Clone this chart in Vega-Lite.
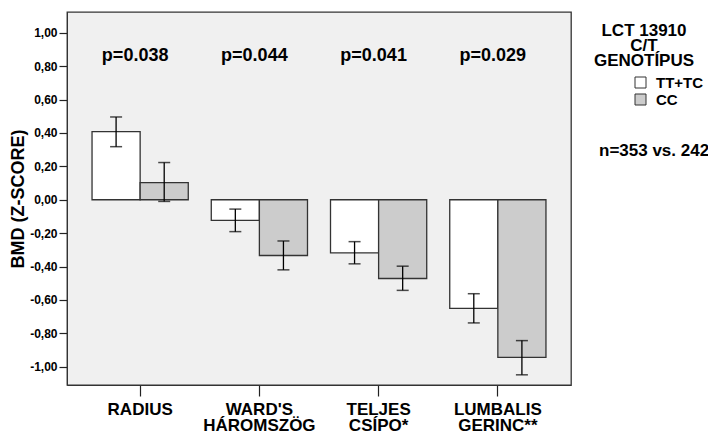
{
  "$schema": "https://vega.github.io/schema/vega-lite/v6.json",
  "width": 504,
  "height": 373,
  "autosize": {"type": "none"},
  "padding": {"left": 67, "top": 12, "right": 137, "bottom": 47},
  "background": "white",
  "config": {
    "font": "Liberation Sans",
    "view": {"fill": "#f0f0f0", "stroke": "#333333", "strokeWidth": 1.3},
    "axisY": {
      "labelOverlap": false,
      "labelSeparation": 0,
      "values": [-1, -0.8, -0.6, -0.4, -0.2, 0, 0.2, 0.4, 0.6, 0.8, 1],
      "labelExpr": "(datum.value < 0 ? '-' : '') + replace(format(abs(datum.value), '.2f'), '.', ',')",
      "labelFontSize": 12,
      "labelFontWeight": "bold",
      "labelColor": "black",
      "labelPadding": 2,
      "tickSize": 8,
      "tickColor": "#222222",
      "tickWidth": 1.2,
      "domainColor": "#333333",
      "grid": false,
      "titleFontSize": 18,
      "titleFontWeight": "bold",
      "titleColor": "black",
      "titleX": -49,
      "titleY": 186.5,
      "titleAngle": -90,
      "titleAlign": "center",
      "titleBaseline": "middle"
    }
  },
  "title": {
    "text": "n=353 vs. 242",
    "anchor": "start",
    "frame": "group",
    "orient": "top",
    "fontSize": 17,
    "fontWeight": "bold",
    "color": "black",
    "offset": 0,
    "dx": 532,
    "dy": 148
  },
  "datasets": {
    "bars": [
      {"site": "RADIUS", "group": "TT+TC", "mean": 0.408, "lo": 0.318, "hi": 0.496},
      {"site": "RADIUS", "group": "CC", "mean": 0.103, "lo": -0.01, "hi": 0.223},
      {"site": "WARD'S HÁROMSZÖG", "group": "TT+TC", "mean": -0.124, "lo": -0.191, "hi": -0.056},
      {"site": "WARD'S HÁROMSZÖG", "group": "CC", "mean": -0.334, "lo": -0.42, "hi": -0.247},
      {"site": "TELJES CSÍPO*", "group": "TT+TC", "mean": -0.318, "lo": -0.384, "hi": -0.251},
      {"site": "TELJES CSÍPO*", "group": "CC", "mean": -0.472, "lo": -0.543, "hi": -0.398},
      {"site": "LUMBALIS GERINC**", "group": "TT+TC", "mean": -0.651, "lo": -0.738, "hi": -0.563},
      {"site": "LUMBALIS GERINC**", "group": "CC", "mean": -0.945, "lo": -1.049, "hi": -0.844}
    ],
    "pvals": [
      {"site": "RADIUS", "label": "p=0.038"},
      {"site": "WARD'S HÁROMSZÖG", "label": "p=0.044"},
      {"site": "TELJES CSÍPO*", "label": "p=0.041"},
      {"site": "LUMBALIS GERINC**", "label": "p=0.029"}
    ]
  },
  "layer": [
    {
      "data": {"name": "bars"},
      "mark": {"type": "bar", "stroke": "#333333", "strokeWidth": 1.3},
      "encoding": {
        "x": {
          "field": "site", "type": "nominal",
          "sort": ["RADIUS", "WARD'S HÁROMSZÖG", "TELJES CSÍPO*", "LUMBALIS GERINC**"],
          "scale": {"paddingInner": 0.193, "paddingOuter": 0.21},
          "axis": {
            "title": null,
            "labelExpr": "split(datum.label, ' ')",
            "labelFontSize": 17,
            "labelFontWeight": "bold",
            "labelColor": "black",
            "labelAngle": 0,
            "labelLineHeight": 16,
            "labelPadding": 5,
            "labelLimit": 0,
            "labelOverlap": false,
            "tickSize": 11,
            "tickColor": "#222222",
            "tickWidth": 1.2,
            "domainColor": "#333333"
          }
        },
        "xOffset": {
          "field": "group", "type": "nominal",
          "sort": ["TT+TC", "CC"],
          "scale": {"paddingInner": 0, "paddingOuter": 0}
        },
        "y": {
          "field": "mean", "type": "quantitative",
          "scale": {"domain": [-1.11, 1.125], "nice": false, "zero": false},
          "axis": {"title": "BMD (Z-SCORE)", "labelOverlap": false, "values": [-1, -0.8, -0.6, -0.4, -0.2, 0, 0.2, 0.4, 0.6, 0.8, 1]}
        },
        "y2": {"datum": 0},
        "fill": {
          "field": "group", "type": "nominal",
          "scale": {"domain": ["TT+TC", "CC"], "range": ["#ffffff", "#cccccc"]},
          "legend": {
            "orient": "none",
            "legendX": 527,
            "legendY": 11,
            "padding": 0,
            "title": ["LCT 13910", "C/T", "GENOTÍPUS"],
            "titleFontSize": 17,
            "titleFontWeight": "bold",
            "titleColor": "black",
            "titleAlign": "center",
            "titleAnchor": "middle",
            "titleLineHeight": 15,
            "titlePadding": 5,
            "symbolType": "square",
            "symbolSize": 121,
            "symbolStrokeColor": "#333333",
            "symbolStrokeWidth": 1,
            "labelFontSize": 15,
            "labelFontWeight": "bold",
            "labelColor": "black",
            "labelOffset": 8,
            "rowPadding": 1,
            "encode": {"title": {"update": {"dx": {"value": -24}}}}
          }
        }
      }
    },
    {
      "data": {"name": "bars"},
      "mark": {"type": "rule", "color": "black", "strokeWidth": 1.3},
      "encoding": {
        "x": {"field": "site", "type": "nominal", "sort": ["RADIUS", "WARD'S HÁROMSZÖG", "TELJES CSÍPO*", "LUMBALIS GERINC**"]},
        "xOffset": {"field": "group", "type": "nominal", "sort": ["TT+TC", "CC"]},
        "y": {"field": "lo", "type": "quantitative", "axis": {"title": "BMD (Z-SCORE)", "labelOverlap": false, "values": [-1, -0.8, -0.6, -0.4, -0.2, 0, 0.2, 0.4, 0.6, 0.8, 1]}},
        "y2": {"field": "hi"}
      }
    },
    {
      "data": {"name": "bars"},
      "mark": {"type": "tick", "orient": "horizontal", "size": 12, "thickness": 1.5, "color": "black"},
      "encoding": {
        "x": {"field": "site", "type": "nominal", "sort": ["RADIUS", "WARD'S HÁROMSZÖG", "TELJES CSÍPO*", "LUMBALIS GERINC**"]},
        "xOffset": {"field": "group", "type": "nominal", "sort": ["TT+TC", "CC"]},
        "y": {"field": "lo", "type": "quantitative", "axis": {"title": "BMD (Z-SCORE)", "labelOverlap": false, "values": [-1, -0.8, -0.6, -0.4, -0.2, 0, 0.2, 0.4, 0.6, 0.8, 1]}}
      }
    },
    {
      "data": {"name": "bars"},
      "mark": {"type": "tick", "orient": "horizontal", "size": 12, "thickness": 1.5, "color": "black"},
      "encoding": {
        "x": {"field": "site", "type": "nominal", "sort": ["RADIUS", "WARD'S HÁROMSZÖG", "TELJES CSÍPO*", "LUMBALIS GERINC**"]},
        "xOffset": {"field": "group", "type": "nominal", "sort": ["TT+TC", "CC"]},
        "y": {"field": "hi", "type": "quantitative", "axis": {"title": "BMD (Z-SCORE)", "labelOverlap": false, "values": [-1, -0.8, -0.6, -0.4, -0.2, 0, 0.2, 0.4, 0.6, 0.8, 1]}}
      }
    },
    {
      "data": {"name": "pvals"},
      "mark": {"type": "text", "fontSize": 18, "fontWeight": "bold", "color": "black", "baseline": "middle", "align": "center", "dx": -5},
      "encoding": {
        "x": {"field": "site", "type": "nominal", "sort": ["RADIUS", "WARD'S HÁROMSZÖG", "TELJES CSÍPO*", "LUMBALIS GERINC**"]},
        "y": {"datum": 0.86, "axis": {"title": "BMD (Z-SCORE)", "labelOverlap": false, "values": [-1, -0.8, -0.6, -0.4, -0.2, 0, 0.2, 0.4, 0.6, 0.8, 1]}},
        "text": {"field": "label"}
      }
    }
  ]
}
